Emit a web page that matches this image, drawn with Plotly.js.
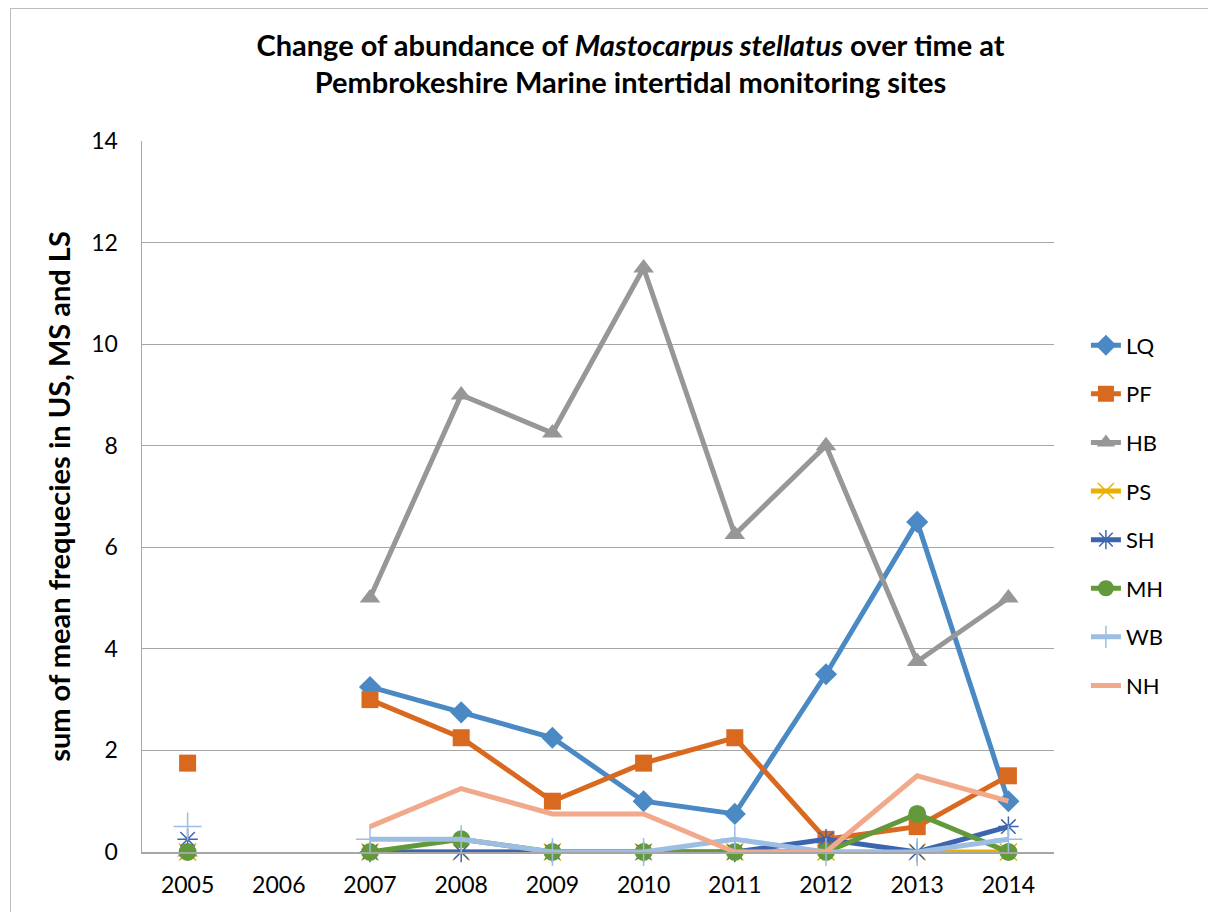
<!DOCTYPE html>
<html>
<head>
<meta charset="utf-8">
<script src="https://cdn.plot.ly/plotly-3.0.1.min.js"></script>
<style>
  html, body { margin: 0; padding: 0; background: #fff; }
  #wrap { position: relative; width: 1208px; height: 912px; overflow: hidden; }
  #frame { position: absolute; left: 10px; top: 8px; width: 1220px; height: 940px; border: 1.5px solid #bdbdbd; pointer-events: none; }
  #chart { position: absolute; left: 0; top: 0; width: 1208px; height: 912px; }
</style>
</head>
<body>
<div id="wrap">
  <div id="chart"></div>
  <div id="frame"></div>
</div>
<script>
const years = ["2005","2006","2007","2008","2009","2010","2011","2012","2013","2014"];
const LQ = [null, null, 3.25, 2.75, 2.25, 1.0, 0.75, 3.5, 6.5, 1.0];
const PF = [1.75, null, 3.0, 2.25, 1.0, 1.75, 2.25, 0.25, 0.5, 1.5];
const HB = [0, null, 5, 9, 8.25, 11.5, 6.25, 8, 3.75, 5];
const PS = [0, null, 0, 0, 0, 0, 0, 0, 0, 0];
const SH = [0.25, null, 0, 0, 0, 0, 0, 0.25, 0, 0.5];
const MH = [0, null, 0, 0.25, 0, 0, 0, 0, 0.75, 0];
const WB = [0.5, null, 0.25, 0.25, 0, 0, 0.25, 0, 0, 0.25];
const NH = [null, null, 0.5, 1.25, 0.75, 0.75, 0, 0, 1.5, 1.0];

const seriesNames = ["LQ","PF","HB","PS","SH","MH","WB","NH"];
const seriesData = [LQ, PF, HB, PS, SH, MH, WB, NH];
const colors = ["#4a89c3","#d9691f","#979797","#e8b000","#3c65ae","#62993a","#9dbde2","#f2a88a"];
const symbols = ["diamond","square","triangle-up","x-thin-open","asterisk-open","circle","cross-thin-open",null];
const sizes = [17, 17, 18, 17, 17, 18, 20, 0];

const fam = "Lato, 'Open Sans', sans-serif";

const traces = seriesNames.map((n, i) => {
  const t = {
    type: "scatter",
    x: years,
    y: seriesData[i],
    name: n,
    legendgroup: n,
    connectgaps: false,
    line: { color: colors[i], width: 5 },
    cliponaxis: false
  };
  if (symbols[i]) {
    t.mode = "lines+markers";
    t.marker = { symbol: symbols[i], size: sizes[i], color: colors[i], line: { color: colors[i], width: (symbols[i].indexOf("open") >= 0 ? 1.5 : 0) } };
  } else {
    t.mode = "lines";
  }
  return t;
});

const layout = {
  width: 1208,
  height: 912,
  margin: { l: 142, r: 154, t: 141, b: 60 },
  paper_bgcolor: "rgba(0,0,0,0)",
  plot_bgcolor: "#fff",
  font: { family: fam, color: "#000" },
  title: {
    text: "<b>Change of abundance of <i>Mastocarpus stellatus</i> over time at<br>Pembrokeshire Marine intertidal monitoring sites</b>",
    font: { size: 29, family: fam, color: "#000" },
    x: 0.522, xanchor: "center",
    y: 0.939, yanchor: "middle"
  },
  xaxis: {
    type: "category",
    categoryorder: "array",
    categoryarray: years,
    range: [-0.5, 9.5],
    showline: true,
    linecolor: "#a6a6a6",
    linewidth: 1.5,
    showgrid: false,
    ticks: "",
    ticklabelstandoff: 12,
    tickfont: { size: 23, family: fam },
    zeroline: false,
    fixedrange: true
  },
  yaxis: {
    range: [0, 14],
    tickvals: [0, 2, 4, 6, 8, 10, 12, 14],
    showline: true,
    linecolor: "#a6a6a6",
    linewidth: 1.5,
    showgrid: true,
    gridcolor: "#a6a6a6",
    gridwidth: 1.2,
    zeroline: false,
    ticks: "",
    ticklen: 0,
    ticklabelstandoff: 18,
    tickfont: { size: 23, family: fam },
    title: {
      text: "<b>sum of mean frequecies in US, MS and LS</b>",
      font: { size: 29, family: fam },
      standoff: 12
    },
    fixedrange: true
  },
  showlegend: true,
  legend: {
    x: 1.035, xanchor: "left",
    y: 0.742, yanchor: "top",
    font: { size: 22, family: fam },
    tracegroupgap: 17,
    traceorder: "grouped",
    bgcolor: "rgba(0,0,0,0)"
  }
};

Plotly.newPlot("chart", traces, layout, { displayModeBar: false, staticPlot: true });
</script>
</body>
</html>
